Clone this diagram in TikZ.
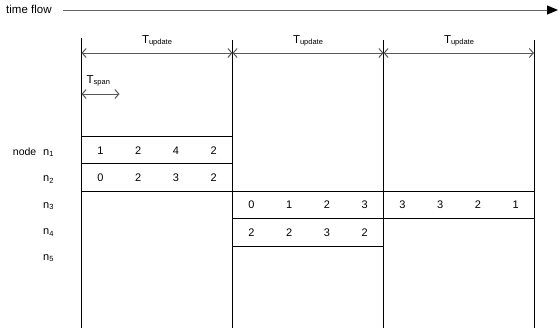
\documentclass[tikz,border=0pt]{standalone}
\usepackage{fontspec}
\setmainfont{Liberation Sans}
\usetikzlibrary{arrows.meta}
\newcommand\Tsb[1]{{\fontsize{11.5}{12}\selectfont T}\raisebox{-1.8pt}{\fontsize{7.5}{8}\selectfont #1}}
\newcommand\nsb[1]{{\fontsize{11}{12}\selectfont n}\raisebox{-1.8pt}{\fontsize{7.5}{8}\selectfont #1}}
\begin{document}
\begin{tikzpicture}[x=1pt,y=-1pt,
  txt/.style={inner sep=0pt,font=\fontsize{10.5}{12}\selectfont},
  digit/.style={inner sep=0pt,font=\fontsize{11}{12}\selectfont},
  period/.style={draw=black!65,line width=1pt,
    {Straight Barb[length=4pt,width=9pt]}-{Straight Barb[length=4pt,width=9pt]}},
  vline/.style={draw=black,line width=1pt},
  rowbox/.style={draw=black,line width=1pt}]
\useasboundingbox (0,0) rectangle (558,335);

% time flow
\node[txt,font=\fontsize{11.5}{12}\selectfont,anchor=base west] (tf) at (6,13) {time flow};
\coordinate (tfstart) at (63,10);
\coordinate (tfend) at (558,10);
\draw[draw=black!60,line width=1pt,-{Triangle[length=11pt,width=9pt,color=black]}] (tfstart) -- (tfend);

% vertical period boundaries
\foreach \i/\x/\t in {0/81.5/38,1/232.5/40,2/383.5/40,3/534/40}{
  \coordinate (vt\i) at (\x,\t);
  \coordinate (vb\i) at (\x,328);
  \coordinate (a\i) at (\x,53);
}
\foreach \i in {0,...,3} \draw[vline] (vt\i) -- (vb\i);

% T_update arrows
\draw[period] (a0) -- (a1);
\draw[period] (a1) -- (a2);
\draw[period] (a2) -- (a3);
\node[inner sep=0pt,anchor=base] (tu1) at (157,43) {\Tsb{update}};
\node[inner sep=0pt,anchor=base] (tu2) at (308,43) {\Tsb{update}};
\node[inner sep=0pt,anchor=base] (tu3) at (459,43) {\Tsb{update}};

% T_span
\coordinate (s0) at (81.5,94);
\coordinate (s1) at (119.5,94);
\draw[period] (s0) -- (s1);
\node[inner sep=0pt,anchor=base west] (ts) at (86.5,83) {\Tsb{span}};

% rows
\draw[rowbox] (81.5,136) rectangle (232.5,163.5);
\draw[rowbox] (81.5,163.5) rectangle (232.5,191);
\draw[rowbox] (232.5,191) rectangle (534,218.5);
\draw[rowbox] (232.5,218.5) rectangle (383.5,246);

% node labels
\node[txt,anchor=base east] (nodelbl) at (36.5,155) {node};
\node[inner sep=0pt,anchor=base west] (n1) at (43,155) {\nsb{1}};
\node[inner sep=0pt,anchor=base west] (n2) at (43,181.5) {\nsb{2}};
\node[inner sep=0pt,anchor=base west] (n3) at (43,208) {\nsb{3}};
\node[inner sep=0pt,anchor=base west] (n4) at (43,234.5) {\nsb{4}};
\node[inner sep=0pt,anchor=base west] (n5) at (43,260) {\nsb{5}};

% digits
\foreach \d [count=\k from 0] in {1,2,4,2}
  \node[digit] (ra\k) at ({81.5+37.75*(\k+0.5)},151) {\d};
\foreach \d [count=\k from 0] in {0,2,3,2}
  \node[digit] (rb\k) at ({81.5+37.75*(\k+0.5)},178) {\d};
\foreach \d [count=\k from 0] in {0,1,2,3,3,3,2,1}
  \node[digit] (rc\k) at ({232.5+37.75*(\k+0.5)},205) {\d};
\foreach \d [count=\k from 0] in {2,2,3,2}
  \node[digit] (rd\k) at ({232.5+37.75*(\k+0.5)},232.5) {\d};
\end{tikzpicture}
\end{document}
